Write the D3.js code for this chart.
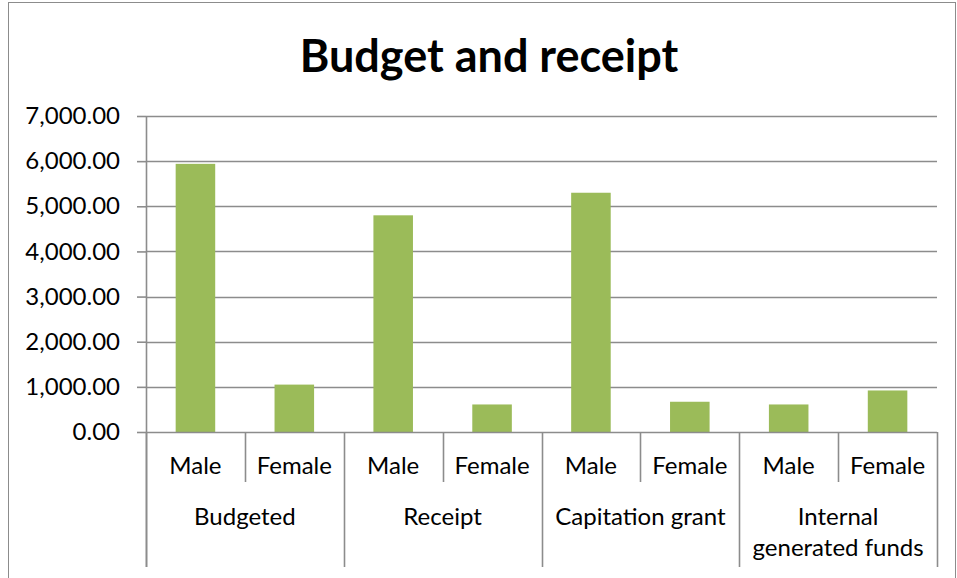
<!DOCTYPE html>
<html>
<head>
<meta charset="utf-8">
<script src="https://cdn.jsdelivr.net/npm/d3@7"></script>
<style>
  html, body { margin: 0; padding: 0; background: #fff; }
  svg { display: block; }
  text { font-family: Lato, "Open Sans", sans-serif; fill: #000; }
</style>
</head>
<body>
<svg id="chart" width="957" height="578"></svg>
<script>
// Budget and receipt by gender
const groups = ["Budgeted", "Receipt", "Capitation grant", "Internal generated funds"];
const genders = ["Male", "Female"];
const values = [5940, 1050, 4800, 610, 5300, 670, 610, 920];
const yTicks = [0, 1000, 2000, 3000, 4000, 5000, 6000, 7000];
const title = "Budget and receipt";

const W = 957, H = 578;
const plot = { left: 146, right: 937, top: 116, bottom: 432 };
const lineColor = "#8c8c8c";
const barColor = "#9bbb59";
const labelSize = "24px";

const svg = d3.select("#chart");

// outer chart frame
svg.append("rect")
  .attr("x", 8.5).attr("y", 2.5)
  .attr("width", 947).attr("height", H + 10)
  .attr("fill", "#fff").attr("stroke", "#8c8c8c").attr("stroke-width", 1);

// flattened categories: one slot per (group, gender)
const slots = [];
groups.forEach(g => genders.forEach(s => slots.push({ group: g, gender: s })));
slots.forEach((d, i) => d.value = values[i]);

const x = d3.scaleBand()
  .domain(d3.range(slots.length))
  .range([plot.left, plot.right])
  .paddingInner(0.6).paddingOuter(0.3);

const slot = d3.scaleBand()
  .domain(d3.range(slots.length))
  .range([plot.left, plot.right]);

const y = d3.scaleLinear().domain([0, 7000]).range([plot.bottom, plot.top]);

// horizontal gridlines
svg.append("g")
  .selectAll("line")
  .data(yTicks.filter(t => t > 0))
  .join("line")
  .attr("x1", plot.left).attr("x2", plot.right)
  .attr("y1", d => Math.round(y(d)) + 0.5).attr("y2", d => Math.round(y(d)) + 0.5)
  .attr("stroke", lineColor).attr("stroke-width", 1.6);

// value axis
const fmt = d3.format(",.2f");
const yAxis = d3.axisLeft(y)
  .tickValues(yTicks)
  .tickFormat(fmt)
  .tickSize(9)
  .tickPadding(17);
const yg = svg.append("g")
  .attr("transform", `translate(${plot.left},0)`)
  .call(yAxis);
yg.select(".domain").remove();
yg.selectAll(".tick line").attr("stroke", lineColor).attr("stroke-width", 1.6);
yg.selectAll(".tick text")
  .style("font-size", labelSize)
  .style("font-family", "Lato, 'Open Sans', sans-serif")
  .attr("fill", "#000");
svg.append("line")
  .attr("x1", plot.left + 0.5).attr("x2", plot.left + 0.5)
  .attr("y1", plot.top).attr("y2", 567)
  .attr("stroke", lineColor).attr("stroke-width", 1.6);

// bars
svg.append("g")
  .selectAll("rect")
  .data(slots)
  .join("rect")
  .attr("x", (d, i) => x(i))
  .attr("width", x.bandwidth())
  .attr("y", d => y(d.value))
  .attr("height", d => y(0) - y(d.value))
  .attr("fill", barColor);

// category axis baseline
svg.append("line")
  .attr("x1", plot.left).attr("x2", plot.right)
  .attr("y1", plot.bottom + 0.5).attr("y2", plot.bottom + 0.5)
  .attr("stroke", lineColor).attr("stroke-width", 1.6);

// separators: short ones between genders, long ones between groups
const cat = svg.append("g");
d3.range(slots.length + 1).forEach(i => {
  const xp = i < slots.length ? slot(i) : plot.right;
  const isGroup = i % genders.length === 0;
  cat.append("line")
    .attr("x1", Math.round(xp) + 0.5).attr("x2", Math.round(xp) + 0.5)
    .attr("y1", plot.bottom)
    .attr("y2", isGroup ? 567 : 482)
    .attr("stroke", lineColor).attr("stroke-width", 1.6);
});

// gender labels
cat.selectAll("text.gender")
  .data(slots)
  .join("text")
  .attr("class", "gender")
  .attr("x", (d, i) => slot(i) + slot.bandwidth() / 2)
  .attr("y", 474)
  .attr("text-anchor", "middle")
  .style("font-size", labelSize)
  .text(d => d.gender);

// group labels (wrapped onto two lines when too long)
const groupWidth = slot.bandwidth() * genders.length;
const groupLines = {
  "Budgeted": ["Budgeted"],
  "Receipt": ["Receipt"],
  "Capitation grant": ["Capitation grant"],
  "Internal generated funds": ["Internal", "generated funds"]
};
groups.forEach((g, gi) => {
  const cx = slot(gi * genders.length) + groupWidth / 2;
  const t = cat.append("text")
    .attr("x", cx).attr("y", 525)
    .attr("text-anchor", "middle")
    .style("font-size", labelSize);
  groupLines[g].forEach((ln, li) => {
    t.append("tspan").attr("x", cx).attr("dy", li === 0 ? 0 : 31).text(ln);
  });
});

// title
svg.append("text")
  .attr("x", 489).attr("y", 72)
  .attr("text-anchor", "middle")
  .style("font-size", "45px")
  .style("font-weight", "bold")
  .text(title);
</script>
</body>
</html>
